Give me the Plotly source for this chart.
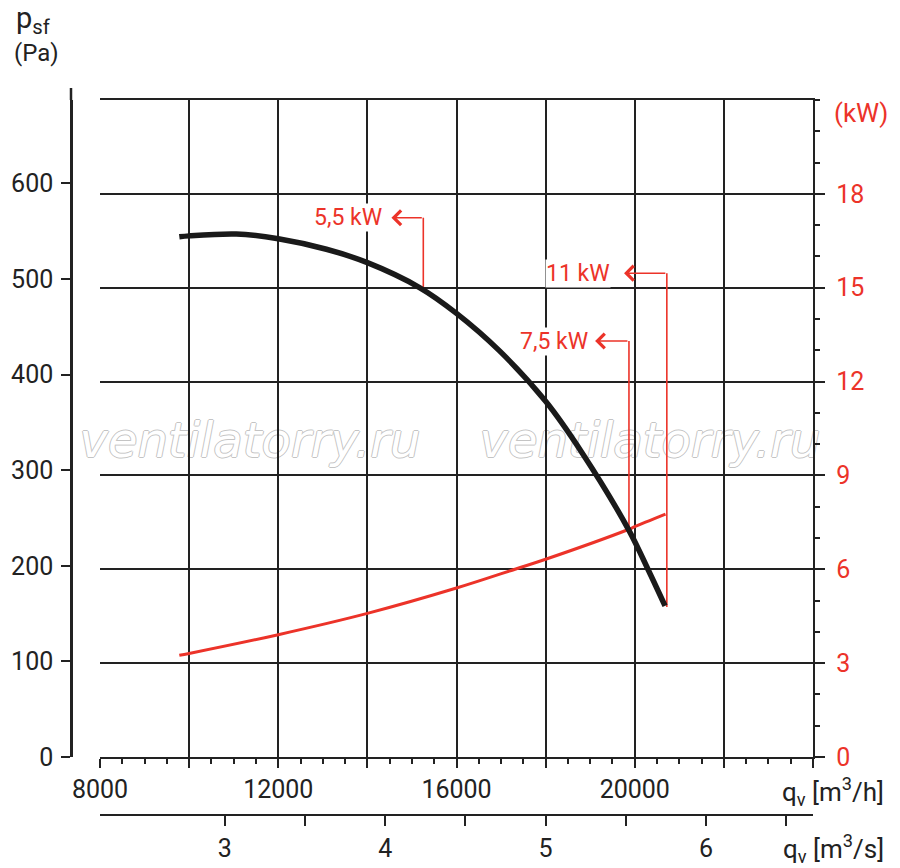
import plotly.graph_objects as go

# the page body adds an 8 px margin, so the figure is drawn 8 px smaller
OFF = 8
W, H = 900 - OFF, 868 - OFF

# fan curve: flow (m3/h) and static pressure (Pa)
flow_pressure = [9780, 10000, 11060, 12000, 13080, 14000, 15170, 16000, 16960, 18000, 18820, 19870, 20320, 20680]
pressure = [544, 545, 547, 542, 531, 517, 491, 464, 425, 372, 318, 237, 194, 158]

# shaft power (kW)
flow_power = [9780, 10000, 12000, 14000, 16000, 17330, 18000, 19870, 20000, 20690]
power = [3.25, 3.31, 3.91, 4.59, 5.40, 6.01, 6.32, 7.28, 7.36, 7.76]

# motor size markers
motor_labels = ['5,5 kW', '7,5 kW', '11 kW']
motor_flow = [15255, 19870, 20720]
motor_p_low = [488, 237, 157]
motor_p_high = [564, 435, 506]
motor_arrow_tip = [14540, 19110, 19760]
motor_text_right = [14340, 18975, 19465]

flow_ticks = [8000, 10000, 12000, 14000, 16000, 18000, 20000, 22000, 24000]
flow_ticktext = ['8000', '', '12000', '', '16000', '', '20000', '', '']
flow_s_ticks = [3, 3.5, 4, 4.5, 5, 5.5, 6, 6.5]
flow_s_ticktext = ['3', '', '4', '', '5', '', '6', '']
pressure_ticks = [0, 100, 200, 300, 400, 500, 600]
power_ticks = [0, 3, 6, 9, 12, 15, 18]
frame_ticks = [0, 3, 6, 9, 12, 15, 18, 21]

RED = '#ec3329'
INK = '#222222'
FONT = 'Roboto'

# pixel layout of the reference (window pixels)
left, right, top, bottom = 100, 813, 100, 757
pa_axis_x = 71
pa_axis_top = 88
sec_axis_y = 815
pa_per_px = 0.9562   # px per Pa


def fx(px):
    return (px - OFF) / W


def fy(py):
    return (H - (py - OFF)) / H


fig = go.Figure()

fig.add_trace(go.Scatter(
    x=flow_power, y=power, mode='lines', line=dict(color=RED, width=3, shape='spline'),
    yaxis='y', hoverinfo='skip', showlegend=False))

for i in range(len(motor_labels)):
    fig.add_trace(go.Scatter(
        x=[motor_flow[i], motor_flow[i]], y=[motor_p_low[i], motor_p_high[i]],
        mode='lines', line=dict(color=RED, width=1.6), yaxis='y2',
        hoverinfo='skip', showlegend=False))

fig.add_trace(go.Scatter(
    x=flow_pressure, y=pressure, mode='lines',
    line=dict(color='#1a1a1a', width=5.5, shape='spline', smoothing=0.9),
    yaxis='y2', hoverinfo='skip', showlegend=False))

# same flow in m3/s to carry the second x axis
fig.add_trace(go.Scatter(
    x=[q / 3600 for q in flow_pressure], y=pressure, mode='lines', line=dict(width=0),
    opacity=0, xaxis='x2', yaxis='y2', hoverinfo='skip', showlegend=False))

# watermark, drawn between grid and traces
shapes = []
for x0, x1 in [(75, 425), (475, 825)]:
    shapes.append(dict(
        type='rect', xref='paper', yref='paper', layer='between',
        x0=fx(x0), x1=fx(x1), y0=fy(462), y1=fy(412),
        line=dict(width=0), fillcolor='rgba(0,0,0,0)',
        label=dict(text='ventilatorry.ru', textposition='middle center',
                   font=dict(family='DejaVu Sans', size=48, style='italic', color='white',
                             shadow='1px 0 0 #c4c4c4, -1px 0 0 #c4c4c4, 0 1px 0 #c4c4c4, 0 -1px 0 #c4c4c4')),
    ))

shapes.append(dict(type='line', xref='paper', yref='paper',
                   x0=fx(pa_axis_x), x1=fx(pa_axis_x), y0=fy(top), y1=fy(pa_axis_top),
                   line=dict(color=INK, width=2.5)))

annotations = []
for i, lab in enumerate(motor_labels):
    annotations.append(dict(
        xref='x', yref='y2', x=motor_arrow_tip[i], y=motor_p_high[i],
        axref='x', ayref='y2', ax=motor_flow[i], ay=motor_p_high[i],
        text='', showarrow=True, arrowhead=4, arrowsize=1.9, arrowwidth=1.5,
        arrowcolor=RED, standoff=0, startstandoff=0))
    annotations.append(dict(
        xref='x', yref='y2', x=motor_text_right[i], y=motor_p_high[i],
        xanchor='right', yanchor='middle', showarrow=False, text=lab,
        bgcolor='white', borderpad=0, font=dict(family=FONT, size=23, color=RED)))

annotations += [
    dict(xref='paper', yref='paper', x=fx(14), y=fy(-1), xanchor='left', yanchor='top',
         showarrow=False, text='p<sub>sf</sub>', font=dict(family=FONT, size=29, color=INK)),
    dict(xref='paper', yref='paper', x=fx(12), y=fy(37), xanchor='left', yanchor='top',
         showarrow=False, text='(Pa)', font=dict(family=FONT, size=24, color=INK)),
    dict(xref='paper', yref='paper', x=fx(832), y=fy(113), xanchor='left', yanchor='middle',
         showarrow=False, text='(kW)', font=dict(family=FONT, size=26, color=RED)),
    dict(xref='paper', yref='paper', x=fx(886), y=fy(791), xanchor='right', yanchor='middle',
         showarrow=False, text='q<sub>v</sub> [m<sup>3</sup>/h]', font=dict(family=FONT, size=26, color=INK)),
    dict(xref='paper', yref='paper', x=fx(886), y=fy(848), xanchor='right', yanchor='middle',
         showarrow=False, text='q<sub>v</sub> [m<sup>3</sup>/s]', font=dict(family=FONT, size=26, color=INK)),
]

tick_font = dict(family=FONT, size=25, color=INK)

fig.update_layout(
    width=W, height=H,
    margin=dict(l=0, r=0, t=0, b=0, autoexpand=False),
    paper_bgcolor='white', plot_bgcolor='white',
    showlegend=False,
    annotations=annotations,
    shapes=shapes,
    xaxis=dict(
        domain=[fx(left), fx(right)], range=[8000, 24000], anchor='y',
        tickmode='array', tickvals=flow_ticks, ticktext=flow_ticktext,
        ticks='outside', ticklen=9, tickwidth=2, tickcolor=INK,
        minor=dict(tickmode='linear', tick0=8000, dtick=500, ticks='outside', ticklen=5,
                   tickwidth=2, tickcolor=INK, showgrid=False),
        showgrid=True, gridcolor=INK, gridwidth=1.6,
        showline=True, linecolor=INK, linewidth=2.4, mirror=True,
        tickfont=tick_font, ticklabelstandoff=0, zeroline=False,
    ),
    xaxis2=dict(
        overlaying='x', anchor='free', position=fy(sec_axis_y), side='bottom',
        range=[8000 / 3600, 24000 / 3600],
        tickmode='array', tickvals=flow_s_ticks, ticktext=flow_s_ticktext,
        ticks='outside', ticklen=10, tickwidth=2, tickcolor=INK,
        showgrid=False, showline=True, linecolor=INK, linewidth=2.2,
        tickfont=tick_font, ticklabelstandoff=1, zeroline=False,
    ),
    yaxis=dict(
        domain=[fy(bottom), fy(top)], range=[0, 21], side='right', anchor='x',
        tickmode='array', tickvals=power_ticks,
        ticks='outside', ticklen=10, tickwidth=2, tickcolor=INK,
        minor=dict(tickmode='linear', tick0=0, dtick=1, ticks='outside', ticklen=5,
                   tickwidth=2, tickcolor=INK, showgrid=False),
        showgrid=True, gridcolor=INK, gridwidth=1.6,
        showline=True, linecolor=INK, linewidth=2.4,
        tickfont=dict(family=FONT, size=25, color=RED), ticklabelstandoff=6, zeroline=False,
    ),
    yaxis2=dict(
        overlaying='y', anchor='free', position=fx(pa_axis_x), side='left',
        range=[0, (bottom - top) / pa_per_px],
        tickmode='array', tickvals=pressure_ticks,
        ticks='outside', ticklen=9, tickwidth=2.2, tickcolor=INK,
        showgrid=False, showline=True, linecolor=INK, linewidth=2.5,
        tickfont=tick_font, ticklabelstandoff=3, zeroline=False,
    ),
    yaxis3=dict(
        overlaying='y', anchor='x', side='left', range=[0, 21],
        tickmode='array', tickvals=frame_ticks, showticklabels=False,
        ticks='outside', ticklen=10, tickwidth=1.6, tickcolor=INK,
        minor=dict(tickmode='linear', tick0=0, dtick=0.6, ticks='outside', ticklen=5,
                   tickwidth=2, tickcolor=INK, showgrid=False),
        showgrid=False, showline=True, linecolor=INK, linewidth=2.4, zeroline=False,
    ),
)

fig.write_html('out.html', config={'displayModeBar': False})
